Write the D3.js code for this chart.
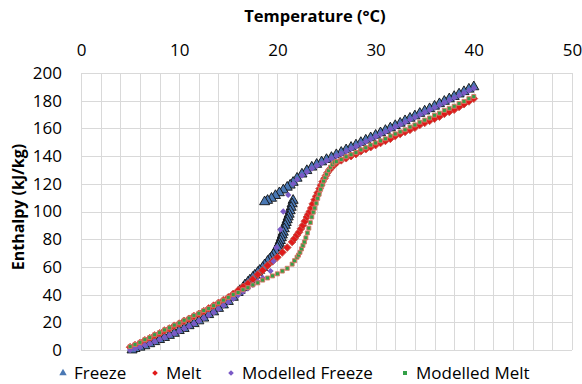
<!DOCTYPE html>
<html>
<head>
<meta charset="utf-8">
<script src="https://cdn.jsdelivr.net/npm/d3@7"></script>
<style>
  body { margin: 0; background: #fff; }
  text { font-family: "Open Sans", sans-serif; fill: #000; }
</style>
</head>
<body>
<svg></svg>
<script>
//tick labels
const xTicks = [0, 10, 20, 30, 40, 50];
const yTicks = [0, 20, 40, 60, 80, 100, 120, 140, 160, 180, 200];
const seriesNames = ["Freeze", "Melt", "Modelled Freeze", "Modelled Melt"];

//[temperature, enthalpy]
const freeze = [
  [40, 190], [39.5, 188.3], [39, 186.5], [38.5, 184.8], [38, 183], [37.5, 181.3], [37, 179.5],
  [36.5, 177.8], [36, 176], [35.5, 174.2], [35, 172.5], [34.5, 170.8], [34, 169], [33.5, 167.3],
  [33, 165.5], [32.5, 163.7], [32, 162], [31.5, 160.3], [31, 158.5], [30.5, 156.8], [30, 155],
  [29.5, 153.2], [29, 151.5], [28.5, 149.8], [28, 148], [27.5, 146.3], [27, 144.5], [26.5, 142.7],
  [26, 141], [25.5, 139], [25, 137.5], [24.5, 135.8], [24, 134], [23.5, 132], [23, 129.5],
  [22.5, 127], [22, 124], [21.6, 121], [21.3, 119], [21, 117.5], [20.6, 115.5], [20.2, 113.5],
  [19.8, 111.5], [19.4, 109.5], [19, 108], [18.7, 107],
  [21.6, 108], [21.5, 105.5], [21.4, 103], [21.3, 100.5], [21.2, 98], [21.1, 96], [21, 94],
  [20.9, 92], [20.8, 90], [20.7, 87.5], [20.6, 85], [20.5, 83], [20.4, 81], [20.3, 79],
  [20.2, 77], [20.1, 75.5], [20, 74], [19.8, 71.5], [19.6, 69], [19.4, 67], [19.2, 65.5],
  [19, 64], [18.7, 61.5], [18.5, 59.5], [18.2, 57.5], [18, 56], [17.7, 54], [17.5, 52.5],
  [17.2, 50.5], [17, 49], [16.7, 47], [16.5, 45], [16.2, 43], [16, 41.5], [15.5, 38], [15, 35],
  [14.5, 32.5], [14, 30], [13.5, 27.5], [13, 25.5], [12.5, 23], [12, 21], [11.5, 19], [11, 17.5],
  [10.5, 15.5], [10, 14], [9.5, 12], [9, 10.5], [8.5, 9], [8, 7.5], [7.5, 6], [7, 4.5],
  [6.5, 3], [6, 2], [5.5, 1], [5.2, 0]
];

const melt = [
  [5, 2], [5.5, 3.5], [6, 5], [6.5, 7], [7, 8.5], [7.5, 10.5], [8, 12], [8.5, 14], [9, 15.5],
  [9.5, 17.5], [10, 19], [10.5, 21], [11, 22.5], [11.5, 24.5], [12, 26], [12.5, 28], [13, 30],
  [13.5, 32], [14, 34], [14.5, 36], [15, 38], [15.5, 40.5], [16, 43], [16.5, 45.5], [17, 48],
  [17.5, 51], [18, 54.5], [18.5, 57.5], [19, 61], [19.5, 64], [20, 67], [20.5, 70.5], [21, 74],
  [21.5, 78], [21.75, 80.5], [22, 83], [22.2, 85], [22.4, 87.5], [22.6, 90], [22.8, 93],
  [23, 96], [23.15, 98], [23.3, 100], [23.45, 102.5], [23.6, 105.5], [23.8, 108.5],
  [23.95, 111], [24.1, 113.5], [24.3, 116.5], [24.45, 119], [24.6, 121.5], [24.8, 124],
  [24.95, 126], [25.1, 128], [25.3, 130], [25.5, 131.5], [25.75, 133.5], [26, 135],
  [26.5, 137], [27, 138.5], [27.5, 140], [28, 141.5], [28.5, 143.5],
  [29, 145], [29.5, 146.5], [30, 148], [30.5, 149.5], [31, 151], [31.5, 152.5], [32, 154.5],
  [32.5, 156], [33, 157.5], [33.5, 159], [34, 160.5], [34.5, 162.5], [35, 164], [35.5, 165.5],
  [36, 167], [36.5, 168.5], [37, 170.5], [37.5, 172], [38, 173.5], [38.5, 175.5], [39, 177.5],
  [39.5, 179.5], [40, 181.5]
];

const modelledFreeze = [
  [40, 189], [39.5, 187.3], [39, 185.5], [38.5, 183.8], [38, 182], [37.5, 180.3], [37, 178.5],
  [36.5, 176.8], [36, 175], [35.5, 173.2], [35, 171.5], [34.5, 169.8], [34, 168], [33.5, 166.3],
  [33, 164.5], [32.5, 162.7], [32, 161], [31.5, 159.3], [31, 157.5], [30.5, 155.8], [30, 154],
  [29.5, 152.2], [29, 150.5], [28.5, 148.8], [28, 147], [27.5, 145.3], [27, 143.5], [26.5, 141.7],
  [26, 140], [25.5, 138.2], [25, 136.5], [24.5, 134.8], [24, 133], [23.5, 131], [23, 128.5],
  [22.5, 126], [22, 123], [21.6, 120], [21.1, 112], [20.6, 100], [20.3, 87], [19.9, 74],
  [19.6, 64], [19.3, 57], [18.5, 52], [18, 49.5], [17.5, 47], [17, 44.5], [16.5, 42], [16, 39.5],
  [15.5, 37], [15, 34.5], [14.5, 32], [14, 29.5], [13.5, 27], [13, 25], [12.5, 23], [12, 21],
  [11.5, 19], [11, 17], [10.5, 15.5], [10, 13.5], [9.5, 12], [9, 10.5], [8.5, 9], [8, 7.5],
  [7.5, 6], [7, 4.5], [6.5, 3.5], [6, 2], [5.5, 1], [5, 0]
];

const modelledMelt = [
  [5, 2.5], [5.5, 4], [6, 5.5], [6.5, 7.5], [7, 9], [7.5, 11], [8, 12.5], [8.5, 14.5], [9, 16],
  [9.5, 18], [10, 19.5], [10.5, 21.5], [11, 23], [11.5, 25], [12, 26.5], [12.5, 28.5], [13, 30],
  [13.5, 32], [14, 34], [14.5, 36], [15, 38], [15.5, 40], [16, 41.5], [16.5, 43.5], [17, 45],
  [17.5, 47], [18, 48.5], [18.5, 50.5], [19, 52], [19.5, 53.5], [20, 55], [20.5, 57], [21, 59],
  [21.5, 62], [21.75, 64.5], [22, 67], [22.15, 68.5], [22.3, 70.5], [22.45, 73], [22.6, 75.5],
  [22.75, 78], [22.9, 81], [23.05, 84.5], [23.2, 88], [23.35, 92], [23.5, 96], [23.65, 99.5],
  [23.8, 102.5], [23.95, 106], [24.1, 109.5], [24.25, 112.5], [24.4, 116], [24.55, 119],
  [24.7, 122], [24.85, 124.5], [25, 127], [25.2, 129.5], [25.4, 132], [25.6, 133.8],
  [25.8, 135.2], [26, 136], [26.5, 137.5], [27, 139.5], [27.5, 141], [28, 142.5],
  [28.5, 144.5], [29, 146], [29.5, 148], [30, 149.5], [30.5, 151], [31, 152.5], [31.5, 154.5],
  [32, 156], [32.5, 157.5], [33, 159], [33.5, 161], [34, 162.5], [34.5, 164.5], [35, 166],
  [35.5, 167.5], [36, 169.5], [36.5, 171], [37, 173], [37.5, 174.5], [38, 176], [38.5, 178],
  [39, 179.5], [39.5, 181.5], [40, 183]
];

//set dimensions of the graph
const width = 582, height = 384;
const margin = { top: 73, right: 10, bottom: 34, left: 81 };

const svg = d3.select("svg")
  .attr("width", width)
  .attr("height", height);

const x = d3.scaleLinear().domain([0, 50]).range([margin.left, width - margin.right]);
const y = d3.scaleLinear().domain([0, 200]).range([height - margin.bottom, margin.top]);

//grid lines: every 2 degrees and every 20 kJ/kg
const grid = svg.append("g").attr("stroke", "#d9d9d9").attr("stroke-width", 1);
grid.selectAll(".vx").data(x.ticks(25)).join("line")
  .attr("x1", d => Math.round(x(d)) + 0.5).attr("x2", d => Math.round(x(d)) + 0.5)
  .attr("y1", y(0)).attr("y2", y(200));
grid.selectAll(".hy").data(yTicks).join("line")
  .attr("y1", d => Math.round(y(d)) + 0.5).attr("y2", d => Math.round(y(d)) + 0.5)
  .attr("x1", x(0)).attr("x2", x(50));

//axes
const xAxis = svg.append("g")
  .attr("transform", `translate(0, ${y(200)})`)
  .call(d3.axisTop(x).tickValues(xTicks).tickSize(0).tickPadding(17));
const yAxis = svg.append("g")
  .attr("transform", `translate(${x(0)}, 0)`)
  .call(d3.axisLeft(y).tickValues(yTicks).tickSize(0).tickPadding(19));
[xAxis, yAxis].forEach(a => {
  a.select(".domain").remove();
  a.selectAll("text").style("font-size", "17px").style("font-family", "'Open Sans', sans-serif").attr("fill", "#000");
});

svg.append("text")
  .attr("x", 315).attr("y", 22)
  .attr("text-anchor", "middle")
  .style("font-size", "16.5px").style("font-weight", "bold")
  .text("Temperature (°C)");

svg.append("text")
  .attr("transform", `translate(24, ${207}) rotate(-90)`)
  .attr("text-anchor", "middle")
  .style("font-size", "16px").style("font-weight", "bold")
  .text("Enthalpy (kJ/kg)");

//marker styles
const styles = [
  { data: freeze, shape: d3.symbolTriangle, size: 44, rot: 0, fill: "#4a78b4", stroke: "#111", sw: 0.9 },
  { data: melt, shape: d3.symbolSquare, size: 30, rot: 45, fill: "#e01a1a", stroke: "#c8544a", sw: 0.9 },
  { data: modelledFreeze, shape: d3.symbolSquare, size: 20, rot: 45, fill: "#7a5ac6", stroke: "none", sw: 0 },
  { data: modelledMelt, shape: d3.symbolSquare, size: 16, rot: 0, fill: "#33a047", stroke: "#de7466", sw: 0.9 }
];

const plot = svg.append("g");
styles.forEach(s => {
  plot.append("g").selectAll("path").data(s.data).join("path")
    .attr("d", d3.symbol().type(s.shape).size(s.size))
    .attr("transform", d => `translate(${x(d[0])}, ${y(d[1])}) rotate(${s.rot})`)
    .attr("fill", s.fill)
    .attr("stroke", s.stroke)
    .attr("stroke-width", s.sw);
});

//legend
const legendX = [63, 155, 231, 405];
const legend = svg.append("g");
styles.forEach((s, i) => {
  const g = legend.append("g").attr("transform", `translate(${legendX[i]}, 373)`);
  g.append("path")
    .attr("d", d3.symbol().type(s.shape).size(i === 0 ? 24 : 16))
    .attr("transform", `rotate(${s.rot})`)
    .attr("fill", s.fill);
  g.append("text")
    .attr("x", 11).attr("dy", "0.35em")
    .style("font-size", "17px")
    .text(seriesNames[i]);
});
</script>
</body>
</html>
